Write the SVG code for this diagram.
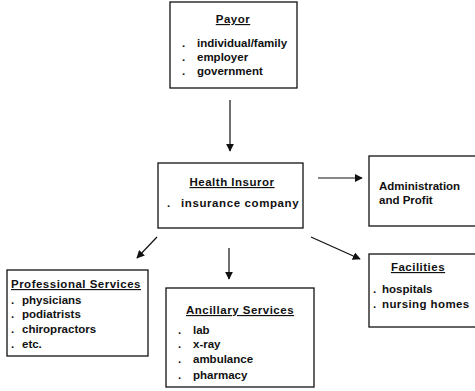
<svg xmlns="http://www.w3.org/2000/svg" width="475" height="391" viewBox="0 0 475 391">
<style>
.box{fill:#fff;stroke:#111;stroke-width:1.3}
text{font-family:"Liberation Sans",Arial,sans-serif;font-size:11.5px;font-weight:bold;fill:#111}
.t{text-anchor:middle;text-decoration:underline;letter-spacing:0.5px}
.c{stroke:#111;stroke-width:1.2;fill:none}
</style>
<defs>
<marker id="ah" viewBox="0 0 10 10" refX="9" refY="5" markerWidth="8" markerHeight="8" markerUnits="userSpaceOnUse" orient="auto">
<path d="M0,0 L10,5 L0,10 z" fill="#111"/>
</marker>
</defs>
<rect width="475" height="391" fill="#fff"/>
<g id="connectors">
<line class="c" x1="230" y1="100" x2="230" y2="151" marker-end="url(#ah)"/>
<line class="c" x1="318" y1="178" x2="362" y2="178" marker-end="url(#ah)"/>
<line class="c" x1="157" y1="237" x2="137" y2="258" marker-end="url(#ah)"/>
<line class="c" x1="229" y1="248" x2="229" y2="279" marker-end="url(#ah)"/>
<line class="c" x1="311" y1="237" x2="360" y2="259" marker-end="url(#ah)"/>
</g>
<g id="payor">
<rect class="box" x="170" y="2" width="127" height="86"/>
<text class="t" x="233" y="23">Payor</text>
<text x="182" y="47">.</text><text x="197" y="47">individual/family</text>
<text x="182" y="61">.</text><text x="197" y="61">employer</text>
<text x="182" y="75">.</text><text x="197" y="75">government</text>
</g>
<g id="health-insuror">
<rect class="box" x="158" y="163" width="145" height="65"/>
<text class="t" x="232" y="186">Health Insuror</text>
<text x="167" y="207">.</text><text x="181" y="207" letter-spacing="0.6">insurance company</text>
</g>
<g id="administration">
<rect class="box" x="369" y="156" width="110" height="70"/>
<text x="379" y="190">Administration</text>
<text x="379" y="204">and Profit</text>
</g>
<g id="professional-services">
<rect class="box" x="7" y="270" width="141" height="86"/>
<text class="t" x="76" y="288">Professional Services</text>
<text x="11" y="304">.</text><text x="22" y="304">physicians</text>
<text x="11" y="318">.</text><text x="22" y="318">podiatrists</text>
<text x="11" y="333">.</text><text x="22" y="333">chiropractors</text>
<text x="11" y="348">.</text><text x="22" y="348">etc.</text>
</g>
<g id="ancillary-services">
<rect class="box" x="166" y="288" width="148" height="99"/>
<text class="t" x="240" y="314">Ancillary Services</text>
<text x="178" y="334">.</text><text x="193" y="334">lab</text>
<text x="178" y="348">.</text><text x="193" y="348">x-ray</text>
<text x="178" y="363">.</text><text x="193" y="363">ambulance</text>
<text x="178" y="379">.</text><text x="193" y="379">pharmacy</text>
</g>
<g id="facilities">
<rect class="box" x="369" y="254" width="110" height="73"/>
<text class="t" x="418" y="271">Facilities</text>
<text x="373" y="293">.</text><text x="382" y="293">hospitals</text>
<text x="373" y="308">.</text><text x="382" y="308" letter-spacing="0.4">nursing homes</text>
</g>
</svg>
